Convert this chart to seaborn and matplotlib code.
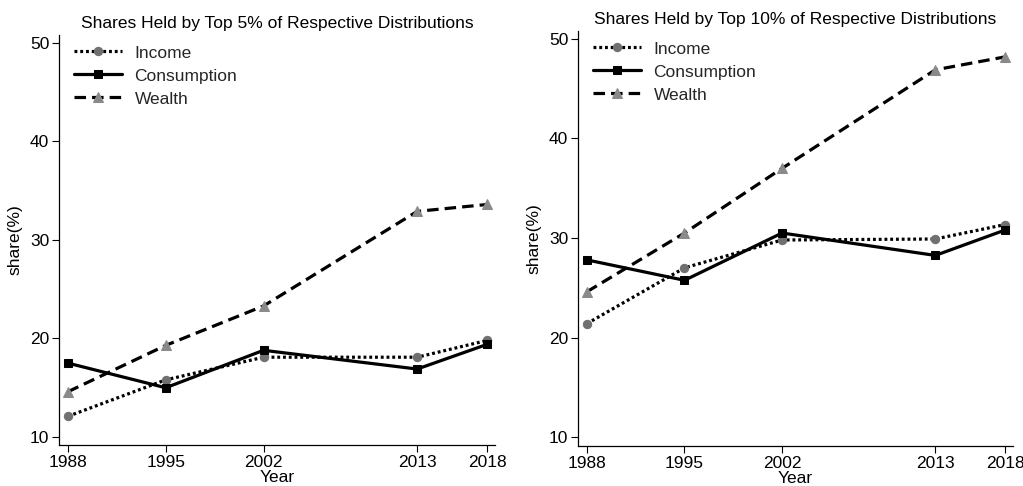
import matplotlib
matplotlib.use("Agg")
import matplotlib.pyplot as plt
import seaborn as sns
import pandas as pd

years = [1988, 1995, 2002, 2013, 2018]
series_names = ["Income", "Consumption", "Wealth"]

top5_income = [12.1, 15.8, 18.1, 18.1, 19.8]
top5_consumption = [17.5, 15.0, 18.8, 16.9, 19.4]
top5_wealth = [14.6, 19.3, 23.3, 32.9, 33.6]

top10_income = [21.4, 27.0, 29.8, 29.9, 31.35]
top10_consumption = [27.8, 25.75, 30.5, 28.25, 30.8]
top10_wealth = [24.6, 30.5, 37.0, 46.9, 48.2]

titles = ["Shares Held by Top 5% of Respective Distributions",
          "Shares Held by Top 10% of Respective Distributions"]
yticks = [10, 20, 30, 40, 50]

sns.set_theme(style="ticks")
plt.rcParams['font.family'] = ['Liberation Sans', 'DejaVu Sans']

styles = {
    "Income": dict(linestyle=(0, (0.9, 0.9)), marker="o", markerfacecolor="#707070",
                   markeredgecolor="#707070", markersize=6),
    "Consumption": dict(linestyle="-", marker="s", markerfacecolor="black",
                        markeredgecolor="black", markersize=6),
    "Wealth": dict(linestyle=(0, (3.6, 1.9)), marker="^", markerfacecolor="#8a8a8a",
                   markeredgecolor="#8a8a8a", markersize=6.5),
}

fig = plt.figure(figsize=(10.23, 4.86), dpi=100)
ax1 = fig.add_axes([59/1023, 41/486, 436/1023, 410/486])
ax2 = fig.add_axes([578/1023, 40/486, 435/1023, 415/486])

panels = [
    (ax1, {"Income": top5_income, "Consumption": top5_consumption, "Wealth": top5_wealth},
     (9.19, 50.8)),
    (ax2, {"Income": top10_income, "Consumption": top10_consumption, "Wealth": top10_wealth},
     (9.1, 50.8)),
]

for (ax, data, ylim), title in zip(panels, titles):
    for name in series_names:
        df = pd.DataFrame({"Year": years, "share": data[name]})
        sns.lineplot(data=df, x="Year", y="share", ax=ax, color="black", linewidth=2.3,
                     label=name, **styles[name])
    ax.set_xlim(1987.36, 2018.57)
    ax.set_ylim(*ylim)
    ax.set_xticks(years)
    ax.set_xticklabels([str(y) for y in years])
    ax.set_yticks(yticks)
    ax.tick_params(axis="both", labelsize=12.5, length=5, width=0.8, color="black",
                   labelcolor="black", pad=2)
    ax.set_xlabel("Year", fontsize=12.5, labelpad=0, color="black")
    ax.set_ylabel("share(%)", fontsize=12.5, labelpad=5, color="black")
    ax.set_title(title, fontsize=12.5, pad=5, color="black")
    for s in ["top", "right"]:
        ax.spines[s].set_visible(False)
    for s in ["left", "bottom"]:
        ax.spines[s].set_color("black")
        ax.spines[s].set_linewidth(0.9)
    leg = ax.legend(loc="upper left", frameon=False, fontsize=12.5, handlelength=2.8,
                    numpoints=1, borderaxespad=0.2, labelspacing=0.45,
                    handletextpad=0.7, bbox_to_anchor=(0.01, 1.0))

fig.savefig("out.png", dpi=100, facecolor="white")
